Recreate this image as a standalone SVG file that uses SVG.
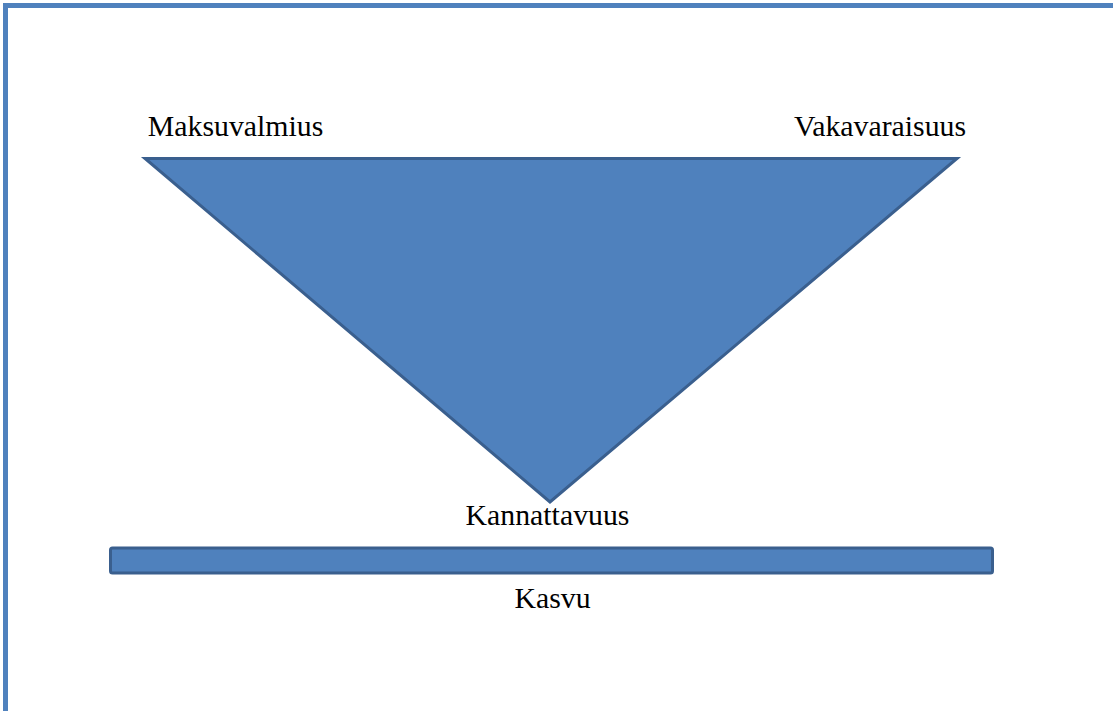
<svg xmlns="http://www.w3.org/2000/svg" width="1113" height="711" viewBox="0 0 1113 711">
<style>
.lbl{font-family:'Liberation Serif','DejaVu Serif',serif;font-size:29.8px;fill:#000;text-anchor:middle}
.shape{fill:#4F81BD;stroke:#3A5F8E;stroke-width:3;stroke-linejoin:miter}
</style>
<rect x="0" y="0" width="1113" height="711" fill="#fff"/>
<rect x="5.5" y="5.5" width="1120" height="720" fill="none" stroke="#4F81BD" stroke-width="5"/>
<g id="triangle">
<polygon class="shape" points="145,158.5 957,158.5 550,502"/>
</g>
<g id="bar">
<rect class="shape" x="110.5" y="548" width="882" height="25" rx="2"/>
</g>
<g id="maksuvalmius"><text class="lbl" x="235.5" y="136">Maksuvalmius</text></g>
<g id="vakavaraisuus"><text class="lbl" x="880" y="136">Vakavaraisuus</text></g>
<g id="kannattavuus"><text class="lbl" x="547.5" y="525">Kannattavuus</text></g>
<g id="kasvu"><text class="lbl" x="552.5" y="608">Kasvu</text></g>
<g id="connectors"></g>
</svg>
